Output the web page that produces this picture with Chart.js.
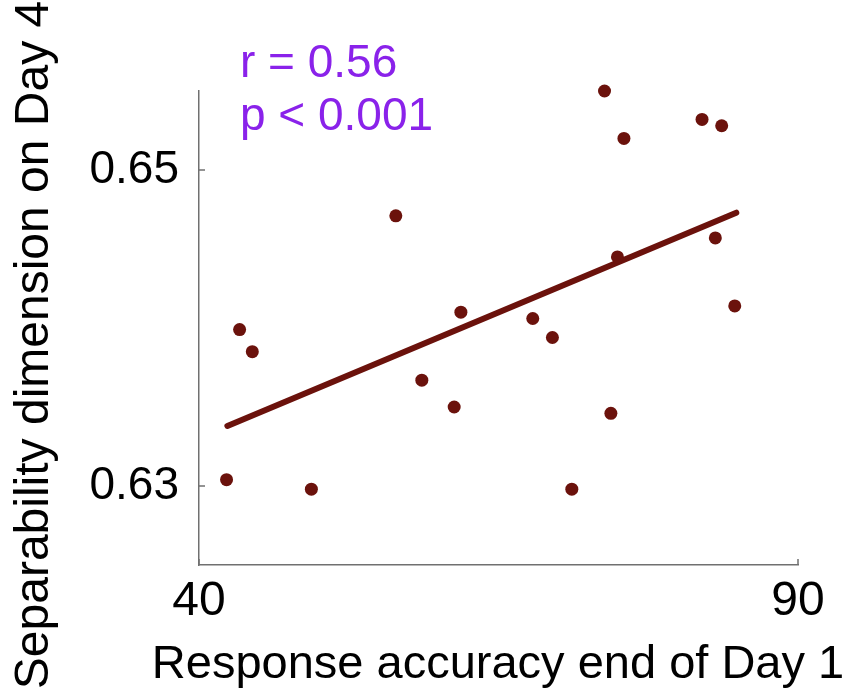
<!DOCTYPE html>
<html>
<head>
<meta charset="utf-8">
<script src="https://cdn.jsdelivr.net/npm/chart.js@4"></script>
<style>
  body { margin: 0; background: white; }
  canvas { display: block; }
</style>
</head>
<body>
<canvas id="scatterChart" width="853" height="691"></canvas>
<script>
// data
const accuracyDay1 = [42.30, 49.38, 43.39, 44.45, 56.43, 61.86, 58.60, 61.30, 73.85, 75.47, 81.99, 83.63, 83.10, 74.93, 84.72, 67.86, 69.50, 71.12, 74.38];
const separabilityDay4 = [0.6304, 0.6298, 0.6399, 0.6385, 0.6471, 0.6410, 0.6367, 0.6350, 0.6550, 0.6520, 0.6532, 0.6528, 0.6457, 0.6445, 0.6414, 0.6406, 0.6394, 0.6298, 0.6346];
const fitX = [42.37, 84.85];
const fitY = [0.6338, 0.6473];
const xTickLabels = [40, 90];
const yTickLabels = [0.63, 0.65];
const statsText = ['r = 0.56', 'p < 0.001'];

const FONT = "'Liberation Sans', Arial, sans-serif";
const markColor = 'rgb(107, 18, 12)';
const axisColor = '#707070';

const scatterPoints = accuracyDay1.map((x, i) => ({ x: x, y: separabilityDay4[i] }));
const fitPoints = fitX.map((x, i) => ({ x: x, y: fitY[i] }));

// short tick marks pointing into the plot, plus the titles and stats text
const decorations = {
  id: 'decorations',
  afterDraw(chart) {
    const ctx = chart.ctx;
    const area = chart.chartArea;
    const xs = chart.scales.x;
    const ys = chart.scales.y;
    ctx.save();
    ctx.strokeStyle = axisColor;
    ctx.lineWidth = 1.5;
    ctx.beginPath();
    xs.ticks.forEach(t => {
      const px = xs.getPixelForValue(t.value);
      ctx.moveTo(px, area.bottom);
      ctx.lineTo(px, area.bottom - 6);
    });
    ys.ticks.forEach(t => {
      const py = ys.getPixelForValue(t.value);
      ctx.moveTo(area.left, py);
      ctx.lineTo(area.left + 6, py);
    });
    ctx.stroke();

    ctx.fillStyle = 'black';
    ctx.font = '47px ' + FONT;
    ctx.textBaseline = 'alphabetic';
    ctx.textAlign = 'center';
    ctx.fillText('Response accuracy end of Day 1', 498, 678);

    ctx.save();
    ctx.translate(48, 345);
    ctx.rotate(-Math.PI / 2);
    ctx.font = '48px ' + FONT;
    ctx.fillText('Separability dimension on Day 4', 0, 0);
    ctx.restore();

    ctx.fillStyle = '#8a22ea';
    ctx.font = '46px ' + FONT;
    ctx.textAlign = 'left';
    ctx.fillText(statsText[0], 240, 77);
    ctx.fillText(statsText[1], 240, 130);
    ctx.restore();
  }
};

const chart = new Chart(document.getElementById('scatterChart').getContext('2d'), {
  type: 'scatter',
  data: {
    datasets: [
      {
        label: 'subjects',
        data: scatterPoints,
        backgroundColor: markColor,
        borderWidth: 0,
        pointRadius: 6.5,
        clip: false,
      },
      {
        type: 'line',
        label: 'fit',
        data: fitPoints,
        borderColor: markColor,
        borderWidth: 6,
        borderCapStyle: 'round',
        pointRadius: 0,
        clip: false,
      },
    ],
  },
  options: {
    responsive: false,
    devicePixelRatio: 1,
    animation: false,
    layout: {
      padding: { left: 0, right: 55, top: 91, bottom: 0 },
    },
    scales: {
      x: {
        type: 'linear',
        min: 40,
        max: 90,
        afterFit: scale => { scale.height = 126; },
        grid: { display: false, drawTicks: false },
        border: { display: true, color: axisColor, width: 1.5 },
        ticks: {
          stepSize: 10,
          padding: 8,
          color: 'black',
          font: { family: FONT, size: 48 },
          maxRotation: 0,
          autoSkip: false,
          callback: value => xTickLabels.some(v => Math.abs(v - value) < 1e-6) ? String(value) : null,
        },
      },
      y: {
        type: 'linear',
        min: 0.625,
        max: 0.655,
        afterFit: scale => { scale.width = 199; },
        grid: { display: false, drawTicks: false },
        border: { display: true, color: axisColor, width: 1.5 },
        ticks: {
          stepSize: 0.005,
          padding: 20,
          color: 'black',
          font: { family: FONT, size: 46 },
          autoSkip: false,
          callback: value => {
            const hit = yTickLabels.find(v => Math.abs(v - value) < 1e-6);
            return hit !== undefined ? hit.toFixed(2) : null;
          },
        },
      },
    },
    plugins: {
      legend: { display: false },
      tooltip: { enabled: false },
    },
  },
  plugins: [decorations],
});
</script>
</body>
</html>
